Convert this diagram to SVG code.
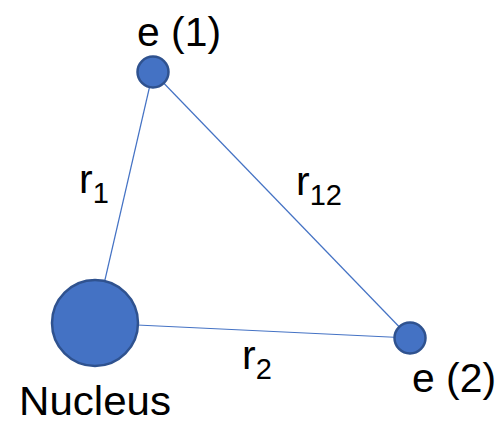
<svg xmlns="http://www.w3.org/2000/svg" width="499" height="424" viewBox="0 0 499 424">
<style>
.ln{stroke:#4472C4;stroke-width:1.2;fill:none}
.nd{fill:#4472C4;stroke:#2F528F;stroke-width:2.5}
.t{font-family:"Liberation Sans",Arial,sans-serif;fill:#000}
.lb{font-size:41px}
.sb{font-size:29px}
</style>
<rect width="499" height="424" fill="#fff"/>
<g id="connectors">
<line class="ln" x1="153" y1="72" x2="95" y2="323"/>
<line class="ln" x1="153" y1="72" x2="410" y2="338"/>
<line class="ln" x1="95" y1="323" x2="410" y2="338"/>
</g>
<g id="e1">
<circle class="nd" cx="153" cy="72" r="15.5"/>
<text class="t lb" x="137" y="46" textLength="84" lengthAdjust="spacingAndGlyphs">e (1)</text>
</g>
<g id="nucleus">
<circle class="nd" cx="95" cy="323" r="43"/>
<text class="t lb" x="19" y="415" textLength="152" lengthAdjust="spacingAndGlyphs">Nucleus</text>
</g>
<g id="e2">
<circle class="nd" cx="410" cy="338" r="15.5"/>
<text class="t lb" x="412" y="392" textLength="84" lengthAdjust="spacingAndGlyphs">e (2)</text>
</g>
<g id="labels">
<text class="t lb" x="79" y="193">r<tspan class="sb" dy="10">1</tspan></text>
<text class="t lb" x="296" y="195">r<tspan class="sb" dy="10">12</tspan></text>
<text class="t lb" x="242" y="369">r<tspan class="sb" dy="10">2</tspan></text>
</g>
</svg>
